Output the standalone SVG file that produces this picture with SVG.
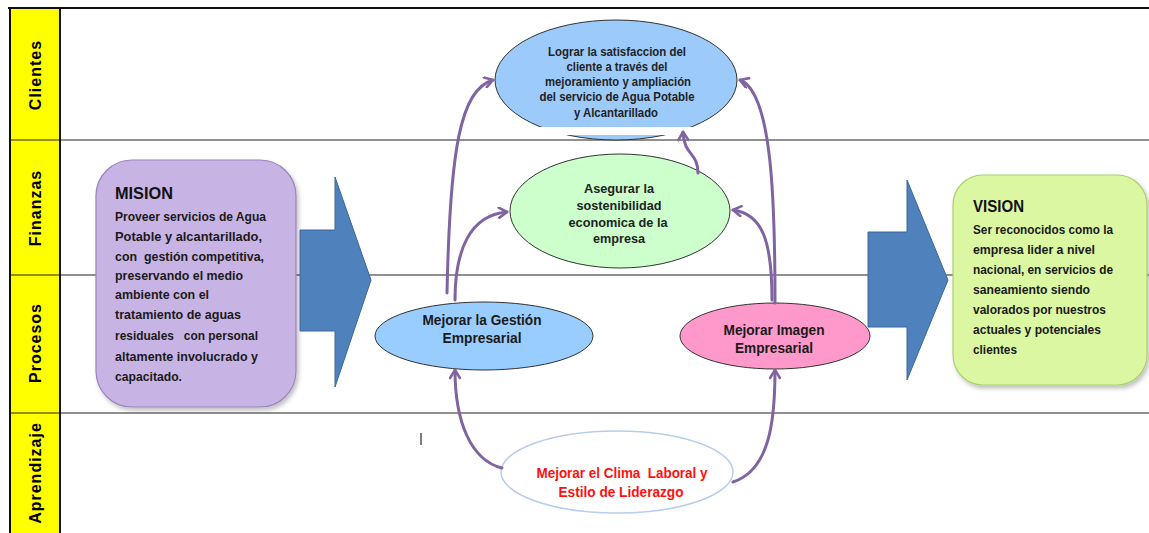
<svg xmlns="http://www.w3.org/2000/svg" width="1149" height="533" viewBox="0 0 1149 533">
<style>
.lane{font-family:"Liberation Sans",Arial,sans-serif;font-weight:bold;font-size:16px;letter-spacing:1px;fill:#000}
.box{font-family:"Liberation Sans",Arial,sans-serif;font-weight:bold;font-size:13px;fill:#1a1a1a}
.head{font-family:"Liberation Sans",Arial,sans-serif;font-weight:bold;font-size:17px;fill:#111}
.ell{font-family:"Liberation Sans",Arial,sans-serif;font-weight:bold;font-size:12px;fill:#222;text-anchor:middle}
.ell2{font-family:"Liberation Sans",Arial,sans-serif;font-weight:bold;font-size:14px;fill:#1a1a1a;text-anchor:middle}
.red{font-family:"Liberation Sans",Arial,sans-serif;font-weight:bold;font-size:14px;fill:#ff1010;text-anchor:middle}
.conn{fill:none;stroke:#8064a2;stroke-width:3;stroke-linecap:round}
.rowline{stroke:#222;stroke-width:1.2}
.bigarrow{fill:#4f81bd;stroke:#3a6898;stroke-width:1}
</style>
<defs>
<marker id="ah" viewBox="0 0 12 12" refX="10" refY="6" markerWidth="12" markerHeight="12" markerUnits="userSpaceOnUse" orient="auto">
<path d="M2,1 L10,6 L2,11" fill="none" stroke="#8064a2" stroke-width="2.6" stroke-linecap="round" stroke-linejoin="round"/>
</marker>
<filter id="sh" x="-10%" y="-10%" width="125%" height="125%">
<feDropShadow dx="2" dy="3" stdDeviation="2" flood-color="#000" flood-opacity="0.25"/>
</filter>
</defs>
<rect width="1149" height="533" fill="#fff"/>
<g id="lanes">
<rect x="10" y="8" width="50" height="525" fill="#ffff00"/>
<line x1="8" y1="8" x2="1149" y2="8" stroke="#111" stroke-width="2"/>
<line class="rowline" x1="10" y1="140" x2="1149" y2="140"/>
<line class="rowline" x1="10" y1="275" x2="1149" y2="275"/>
<line class="rowline" x1="10" y1="413" x2="1149" y2="413"/>
<line x1="10" y1="8" x2="10" y2="533" stroke="#111" stroke-width="2"/>
<line x1="60" y1="8" x2="60" y2="533" stroke="#111" stroke-width="2"/>
<text class="lane" transform="translate(41,75) rotate(-90)" text-anchor="middle">Clientes</text>
<text class="lane" transform="translate(41,208) rotate(-90)" text-anchor="middle">Finanzas</text>
<text class="lane" transform="translate(41,343) rotate(-90)" text-anchor="middle">Procesos</text>
<text class="lane" transform="translate(41,473) rotate(-90)" text-anchor="middle">Aprendizaje</text>
</g>
<g id="mision">
<rect x="96" y="160" width="200" height="247" rx="36" fill="#c8b4e4" stroke="#9b82c0" stroke-width="1.2" filter="url(#sh)"/>
<text class="head" x="115" y="199" textLength="58" lengthAdjust="spacingAndGlyphs">MISION</text>
<text class="box" x="115" y="221" textLength="151" lengthAdjust="spacingAndGlyphs">Proveer servicios de Agua</text>
<text class="box" x="115" y="241" textLength="147" lengthAdjust="spacingAndGlyphs">Potable y alcantarillado,</text>
<text class="box" x="115" y="261" textLength="149" lengthAdjust="spacingAndGlyphs" xml:space="preserve">con  gestión competitiva,</text>
<text class="box" x="115" y="280" textLength="128" lengthAdjust="spacingAndGlyphs">preservando el medio</text>
<text class="box" x="115" y="299" textLength="94" lengthAdjust="spacingAndGlyphs">ambiente con el</text>
<text class="box" x="115" y="319" textLength="126" lengthAdjust="spacingAndGlyphs">tratamiento de aguas</text>
<text class="box" x="115" y="340" textLength="143" lengthAdjust="spacingAndGlyphs" xml:space="preserve">residuales   con personal</text>
<text class="box" x="115" y="361" textLength="143" lengthAdjust="spacingAndGlyphs">altamente involucrado y</text>
<text class="box" x="115" y="381" textLength="67" lengthAdjust="spacingAndGlyphs">capacitado.</text>
</g>
<g id="arrow-left">
<polygon class="bigarrow" points="300,230 335,230 335,177 371,280 335,387 335,331 300,331"/>
</g>
<g id="arrow-right">
<polygon class="bigarrow" points="868,232 907,232 907,180 948,280 907,380 907,327 868,327"/>
</g>
<g id="vision">
<rect x="953" y="175" width="194" height="210" rx="30" fill="#dcf7a2" stroke="#aacf72" stroke-width="1.2" filter="url(#sh)"/>
<text class="head" x="973" y="212" textLength="51" lengthAdjust="spacingAndGlyphs">VISION</text>
<text class="box" x="973" y="234" textLength="140" lengthAdjust="spacingAndGlyphs">Ser reconocidos como la</text>
<text class="box" x="973" y="254" textLength="122" lengthAdjust="spacingAndGlyphs">empresa lider a nivel</text>
<text class="box" x="973" y="274" textLength="140" lengthAdjust="spacingAndGlyphs">nacional, en servicios de</text>
<text class="box" x="973" y="294" textLength="117" lengthAdjust="spacingAndGlyphs">saneamiento siendo</text>
<text class="box" x="973" y="314" textLength="133" lengthAdjust="spacingAndGlyphs">valorados por nuestros</text>
<text class="box" x="973" y="334" textLength="128" lengthAdjust="spacingAndGlyphs">actuales y potenciales</text>
<text class="box" x="973" y="354" textLength="44" lengthAdjust="spacingAndGlyphs">clientes</text>
</g>
<g id="satisfaccion">
<ellipse cx="616" cy="80" rx="121" ry="60" fill="#9ccbfb" stroke="#333" stroke-width="1"/>
<rect x="532" y="127" width="171" height="8" fill="#fff"/>
<text class="ell" x="617" y="56" textLength="138" lengthAdjust="spacingAndGlyphs">Lograr la satisfaccion del</text>
<text class="ell" x="617" y="71" textLength="101" lengthAdjust="spacingAndGlyphs">cliente a través del</text>
<text class="ell" x="618" y="86" textLength="146" lengthAdjust="spacingAndGlyphs">mejoramiento y ampliación</text>
<text class="ell" x="617" y="101" textLength="155" lengthAdjust="spacingAndGlyphs">del servicio de Agua Potable</text>
<text class="ell" x="616" y="117" textLength="84" lengthAdjust="spacingAndGlyphs">y Alcantarillado</text>
</g>
<g id="sostenibilidad">
<ellipse cx="620" cy="211" rx="110" ry="57" fill="#ccffcc" stroke="#333" stroke-width="1"/>
<text class="ell" x="619" y="193" textLength="70" lengthAdjust="spacingAndGlyphs">Asegurar la</text>
<text class="ell" x="619" y="210" textLength="85" lengthAdjust="spacingAndGlyphs">sostenibilidad</text>
<text class="ell" x="618" y="227" textLength="99" lengthAdjust="spacingAndGlyphs">economica de la</text>
<text class="ell" x="619" y="243" textLength="52" lengthAdjust="spacingAndGlyphs">empresa</text>
</g>
<g id="gestion">
<ellipse cx="484" cy="336" rx="109" ry="34" fill="#99ccff" stroke="#333" stroke-width="1"/>
<text class="ell2" x="482" y="325" textLength="119" lengthAdjust="spacingAndGlyphs">Mejorar la Gestión</text>
<text class="ell2" x="482" y="343" textLength="79" lengthAdjust="spacingAndGlyphs">Empresarial</text>
</g>
<g id="imagen">
<ellipse cx="775" cy="336" rx="95" ry="33" fill="#ff99cc" stroke="#333" stroke-width="1"/>
<text class="ell2" x="774" y="335" textLength="101" lengthAdjust="spacingAndGlyphs">Mejorar Imagen</text>
<text class="ell2" x="774" y="353" textLength="78" lengthAdjust="spacingAndGlyphs">Empresarial</text>
</g>
<g id="clima">
<ellipse cx="617" cy="472" rx="116" ry="41" fill="#fff" stroke="#b8cdee" stroke-width="1.5"/>
<text class="red" x="622" y="478" textLength="171" lengthAdjust="spacingAndGlyphs" xml:space="preserve">Mejorar el Clima  Laboral y</text>
<text class="red" x="621" y="497" textLength="125" lengthAdjust="spacingAndGlyphs">Estilo de Liderazgo</text>
</g>
<line x1="421" y1="433" x2="421" y2="445" stroke="#555" stroke-width="1.5"/>
<g id="connectors">
<path class="conn" d="M447,293 C450,150 460,90 493,80" marker-end="url(#ah)"/>
<path class="conn" d="M455,300 C455,250 470,215 507,212" marker-end="url(#ah)"/>
<path class="conn" d="M698,173 C698,152 684,156 683,132" marker-end="url(#ah)"/>
<path class="conn" d="M775,303 C775,200 772,92 740,80" marker-end="url(#ah)"/>
<path class="conn" d="M772,300 C772,240 762,214 733,210" marker-end="url(#ah)"/>
<path class="conn" d="M502,468 C470,460 455,420 455,370" marker-end="url(#ah)"/>
<path class="conn" d="M733,482 C770,470 775,420 775,370" marker-end="url(#ah)"/>
</g>
</svg>
